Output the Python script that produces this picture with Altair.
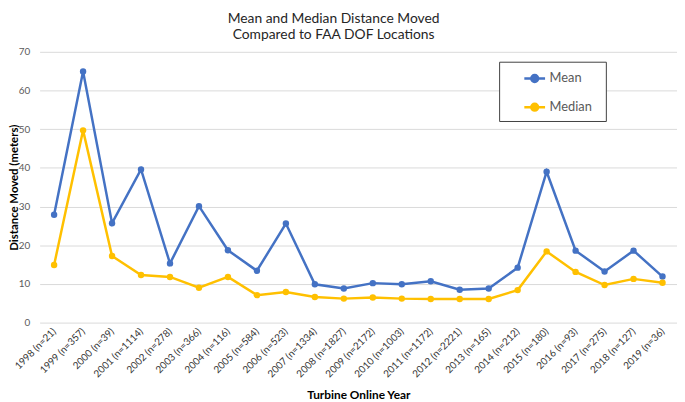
import altair as alt
import pandas as pd

years = ["1998", "1999", "2000", "2001", "2002", "2003", "2004", "2005", "2006", "2007", "2008",
         "2009", "2010", "2011", "2012", "2013", "2014", "2015", "2016", "2017", "2018", "2019"]
counts = [21, 357, 39, 1114, 278, 366, 116, 584, 523, 1334, 1827,
          2172, 1003, 1172, 2221, 165, 212, 180, 93, 275, 127, 36]
mean_vals = [27.9, 64.9, 25.7, 39.6, 15.3, 30.1, 18.7, 13.4, 25.6, 9.9, 8.8,
             10.2, 9.9, 10.7, 8.5, 8.8, 14.2, 39.0, 18.6, 13.2, 18.6, 11.9]
median_vals = [14.9, 49.7, 17.2, 12.3, 11.8, 9.0, 11.8, 7.1, 7.9, 6.6, 6.2,
               6.5, 6.2, 6.1, 6.1, 6.1, 8.4, 18.4, 13.1, 9.7, 11.3, 10.3]
series_names = ["Mean", "Median"]
series_colors = ["#4472C4", "#FFC000"]

labels = [f"{y} (n={n})" for y, n in zip(years, counts)]
rows = []
for name, vals in zip(series_names, [mean_vals, median_vals]):
    for i, (lab, v) in enumerate(zip(labels, vals)):
        rows.append({"label": lab, "series": name, "value": v, "idx": i})
df = pd.DataFrame(rows)

FONT = "Lato"

x_enc = alt.X(
    "label:N", sort=labels,
    scale=alt.Scale(type="point", padding=0.5),
    axis=alt.Axis(
        title="Turbine Online Year", titleFont=FONT, titleFontSize=12, titleFontWeight="bold",
        titleColor="#000000", titleY=76.5, titleBaseline="alphabetic",
        labelAngle=-45, labelAlign="right", labelBaseline="middle", labelFont=FONT,
        labelFontSize=10, labelColor="#333333", labelPadding=7,
        ticks=False, tickSize=0, domain=False, grid=False,
    ),
)
y_enc = alt.Y(
    "value:Q",
    scale=alt.Scale(domain=[0, 70], nice=False),
    axis=alt.Axis(
        title="Distance Moved (meters)", titleFont=FONT, titleFontSize=11.5, titleFontWeight="bold",
        titleColor="#000000", titleX=-25, titleY=137, titleBaseline="middle", titleAngle=-90,
        values=[0, 10, 20, 30, 40, 50, 60, 70], labelFont=FONT, labelFontSize=10,
        labelColor="#595959", labelPadding=10, ticks=False, tickSize=0, domain=False,
        grid=True, gridColor="#D9D9D9", gridWidth=1,
    ),
)
color_enc = alt.Color(
    "series:N",
    scale=alt.Scale(domain=series_names, range=series_colors),
    legend=alt.Legend(
        title="ii", titleOrient="right", titleColor="#FFFFFF", titleFontSize=10,
        titlePadding=3, titleFont=FONT,
        orient="none", legendX=465, legendY=10,
        strokeColor="#404040", fillColor="#FFFFFF", padding=5,
        symbolType="M-1,0L1,0M0.33,0A0.33,0.33,0,1,1,-0.33,0A0.33,0.33,0,1,1,0.33,0Z",
        symbolSize=441, symbolStrokeWidth=2.5, symbolOffset=19, labelOffset=3,
        labelFont=FONT, labelFontSize=13, labelColor="#595959", rowPadding=8,
    ),
)

lines = alt.Chart(df).mark_line(strokeWidth=2.5).encode(
    x=x_enc, y=y_enc, color=color_enc, order="idx:Q"
)
points = alt.Chart(df).mark_point(filled=True, size=42, opacity=1).encode(
    x=x_enc, y=y_enc, color=color_enc
)

chart = alt.layer(lines, points).properties(
    width=645, height=274,
    title=alt.TitleParams(
        ["Mean and Median Distance Moved", "Compared to FAA DOF Locations"],
        font=FONT, fontSize=14, fontWeight="normal", color="#262626",
        anchor="middle", dx=-25, offset=5, lineHeight=16,
    ),
    autosize=alt.AutoSizeParams(type="none"),
    padding={"left": 32, "top": 42, "right": 0, "bottom": 78},
).configure_view(stroke=None)

chart.save("out.html", embed_options={"renderer": "svg", "actions": False})
